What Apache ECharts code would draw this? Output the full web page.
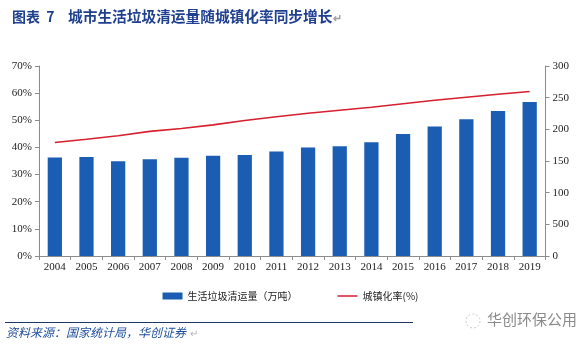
<!DOCTYPE html>
<html>
<head>
<meta charset="utf-8">
<script src="https://cdn.jsdelivr.net/npm/echarts@6/dist/echarts.min.js"></script>
<style>
  html, body { margin: 0; padding: 0; background: #fff; }
  #chart { width: 581px; height: 344px; }
</style>
</head>
<body>
<div id="chart"></div>
<script>
// Years on the category axis
var years = ['2004','2005','2006','2007','2008','2009','2010','2011','2012','2013','2014','2015','2016','2017','2018','2019'];
// Municipal solid waste collected (right axis)
var wasteVolume = [155.5, 156.2, 149.5, 152.8, 155.2, 158.3, 159.3, 165.0, 171.5, 173.2, 179.5, 192.5, 204.5, 216.0, 229.0, 243.0];
// Urbanization rate, % (left axis)
var urbanRate = [41.8, 43.0, 44.3, 45.9, 47.0, 48.3, 49.9, 51.3, 52.6, 53.7, 54.8, 56.1, 57.4, 58.5, 59.6, 60.6];
// Right-axis tick labels as printed
var rightTicks = ['0', '500', '100', '150', '200', '250', '300'];
var leftTicks = ['0%', '10%', '20%', '30%', '40%', '50%', '60%', '70%'];

var serif = '"Liberation Serif", "DejaVu Serif", serif';
var cjk = '"Noto Sans CJK SC", "Noto Sans", sans-serif';
var axisGray = '#8c8c8c';

var chart = echarts.init(document.getElementById('chart'), null, { renderer: 'canvas' });
chart.setOption({
  animation: false,
  backgroundColor: '#ffffff',
  title: {
    text: '{a|图表  7}{b|城市生活垃圾清运量随城镇化率同步增长}{c|↵}',
    left: 7,
    top: 4,
    textStyle: {
      rich: {
        a: { fontFamily: cjk, fontSize: 14, fontWeight: 'bold', color: '#1f3f8f', width: 56 },
        b: { fontFamily: cjk, fontSize: 14.7, fontWeight: 'bold', color: '#1f3f8f' },
        c: { fontFamily: cjk, fontSize: 11, color: '#a0a0a0', padding: [2, 0, 0, 1] }
      }
    }
  },
  grid: { left: 39, right: 35.5, top: 66, bottom: 88, containLabel: false },
  legend: {
    bottom: 38,
    left: 'center',
    itemGap: 40,
    itemWidth: 20,
    itemHeight: 7,
    textStyle: { fontFamily: cjk, fontSize: 10, color: '#222' },
    data: [
      { name: '生活垃圾清运量（万吨）', icon: 'rect' },
      { name: '城镇化率(%)', icon: 'path://M0,0 L20,0 L20,1.5 L0,1.5 Z' }
    ]
  },
  xAxis: {
    type: 'category',
    data: years,
    boundaryGap: true,
    axisLine: { lineStyle: { color: axisGray, width: 1 } },
    axisTick: { show: true, alignWithLabel: false, length: 4, lineStyle: { color: axisGray } },
    axisLabel: { fontFamily: serif, fontSize: 11, color: '#222', margin: 6 }
  },
  yAxis: [
    {
      type: 'value',
      min: 0, max: 70, interval: 10,
      position: 'left',
      axisLine: { show: true, lineStyle: { color: axisGray } },
      axisTick: { show: true, length: 4, lineStyle: { color: axisGray } },
      splitLine: { show: false },
      axisLabel: {
        fontFamily: serif, fontSize: 11, color: '#222', margin: 7,
        formatter: function (v) { return leftTicks[Math.round(v / 10)]; }
      }
    },
    {
      type: 'value',
      min: 0, max: 300, interval: 50,
      position: 'right',
      axisLine: { show: true, lineStyle: { color: axisGray } },
      axisTick: { show: true, length: 4, lineStyle: { color: axisGray } },
      splitLine: { show: false },
      axisLabel: {
        fontFamily: serif, fontSize: 11, color: '#222', margin: 7,
        formatter: function (v) { return rightTicks[Math.round(v / 50)]; }
      }
    }
  ],
  series: [
    {
      name: '生活垃圾清运量（万吨）',
      type: 'bar',
      yAxisIndex: 1,
      data: wasteVolume,
      barWidth: '45%',
      itemStyle: { color: '#1b5db3' }
    },
    {
      name: '城镇化率(%)',
      type: 'line',
      yAxisIndex: 0,
      data: urbanRate,
      symbol: 'none',
      lineStyle: { color: '#d61f2f', width: 1.6 },
      itemStyle: { color: '#d61f2f' }
    }
  ],
  graphic: [
    {
      type: 'line',
      shape: { x1: 5, y1: 322.5, x2: 413, y2: 322.5 },
      style: { stroke: '#1f3864', lineWidth: 1 }
    },
    {
      type: 'text',
      left: 6, top: 326,
      style: {
        text: '资料来源：国家统计局，华创证券',
        font: 'italic 12px ' + cjk,
        fill: '#1f4e9c'
      }
    },
    {
      type: 'text',
      left: 190, top: 328,
      style: { text: '↵', font: '10px ' + cjk, fill: '#b0b0b0' }
    },
    {
      type: 'circle',
      shape: { cx: 473, cy: 321, r: 7 },
      style: { fill: 'none', stroke: '#c8c8c8', lineWidth: 1, lineDash: [2, 2] }
    },
    {
      type: 'text',
      left: 487, top: 312,
      style: { text: '华创环保公用', font: '15px ' + cjk, fill: '#8a8a8a' }
    }
  ]
});
</script>
</body>
</html>
